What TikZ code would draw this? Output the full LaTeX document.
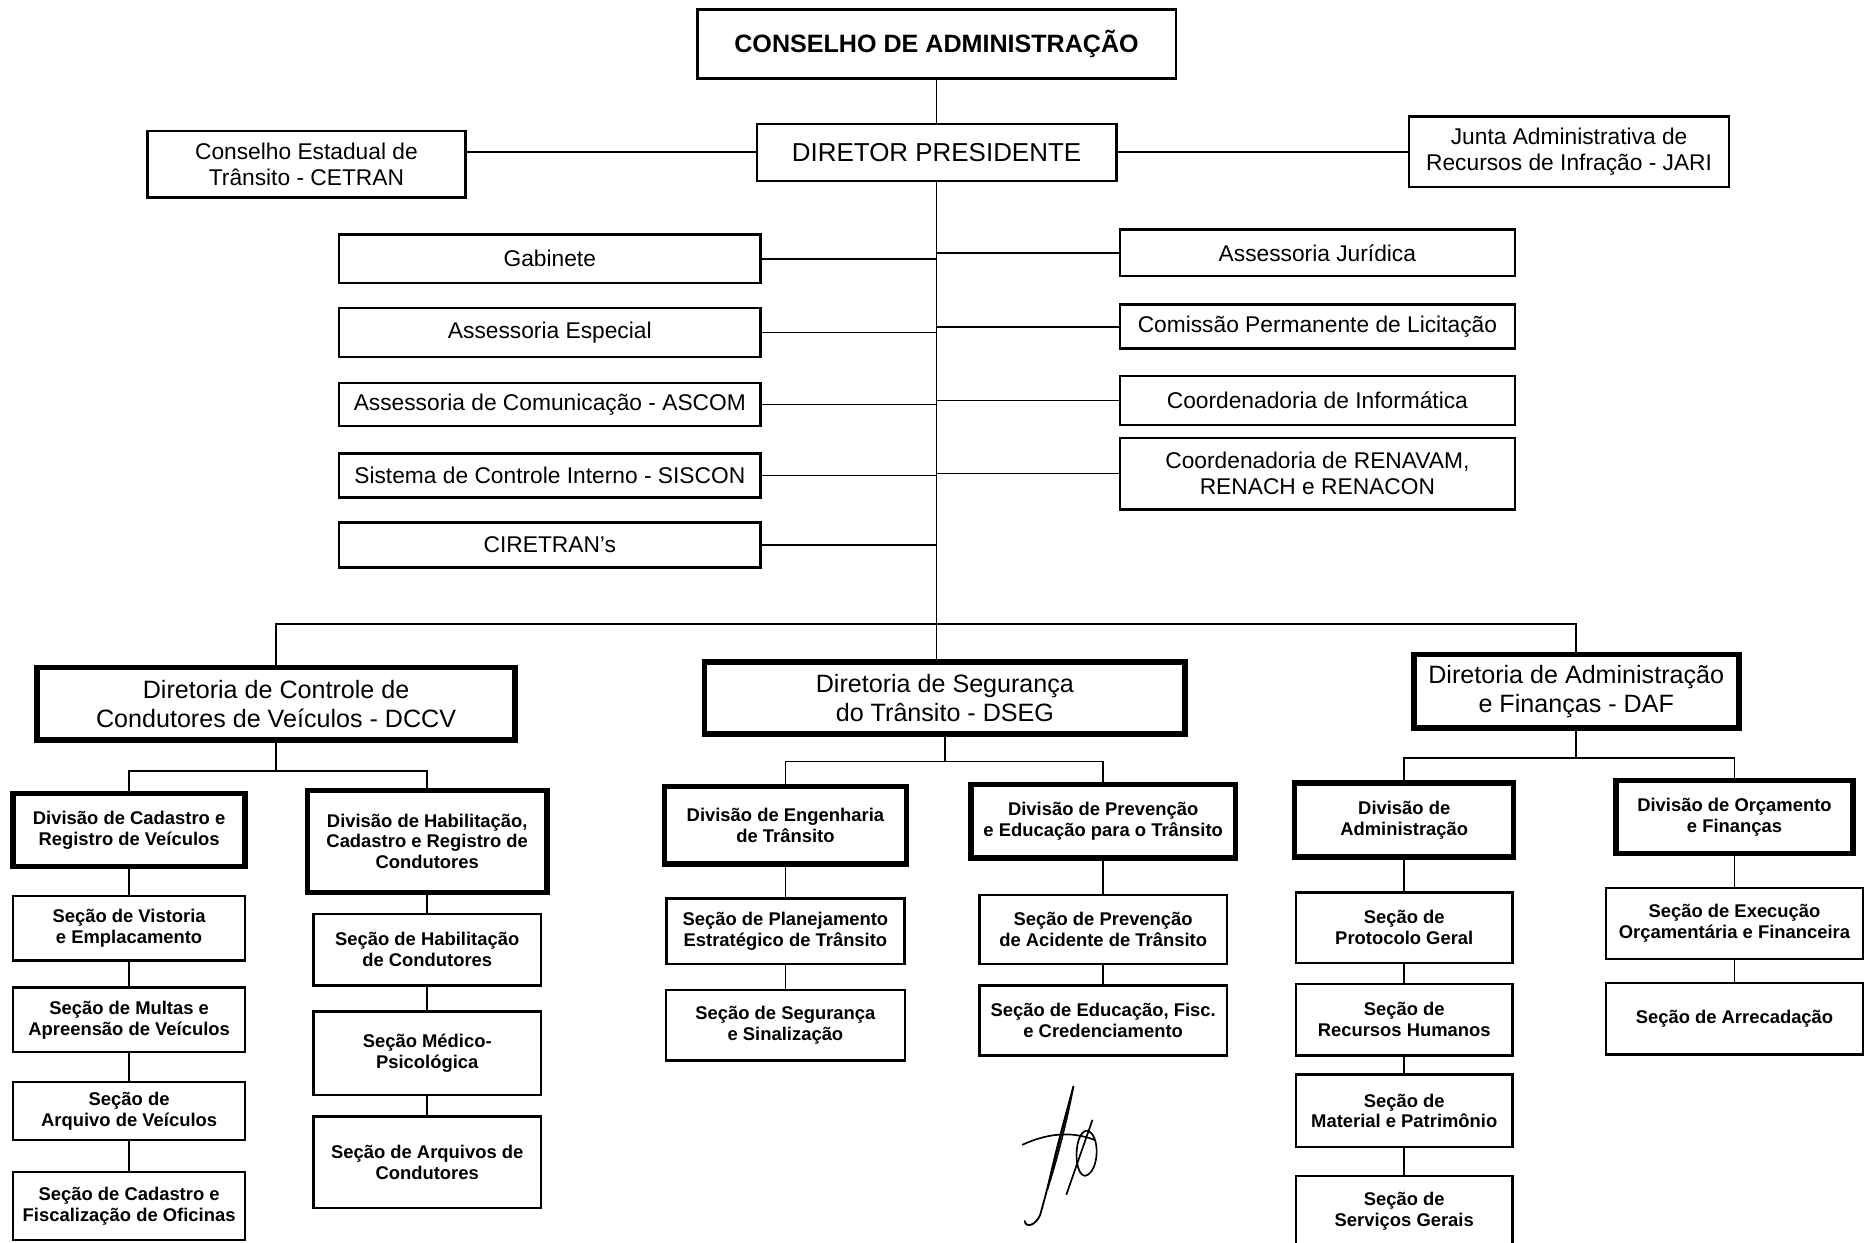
\documentclass[tikz,border=0pt]{standalone}
\usepackage{fontspec}
\setmainfont{Liberation Sans}
\tikzset{
    box/.style={draw, line width=1.5pt, align=center, inner sep=2pt, font=\fontsize{13.6}{15.5}\selectfont}, % 普通方框
    dir box/.style={box, line width=3.4pt, font=\fontsize{15}{17.5}\selectfont}, % 各个Diretoria
    div box/.style={box, line width=3.2pt, font=\bfseries\fontsize{11}{12.5}\selectfont}, % 各个Divisão
    sec box/.style={box, font=\bfseries\fontsize{11}{12.5}\selectfont}, % 各个Seção
    wh/.style 2 args={minimum width=#1*0.025cm, minimum height=#2*0.025cm}, % 宽和高(像素)
    link/.style={line width=1pt}
}
\begin{document}
\begin{tikzpicture}[x=0.025cm, y=-0.025cm]
    \useasboundingbox (0,0) rectangle (1568,1044);

    % 上层
    \node[box, wh={402}{58}, font=\bfseries\fontsize{15}{17}\selectfont] (cons) at (787,37) {CONSELHO DE ADMINISTRAÇÃO};
    \node[box, wh={302}{48}, font=\fontsize{15.5}{17}\selectfont] (dp) at (787,128) {DIRETOR PRESIDENTE};
    \node[box, wh={267}{56}] (cetran) at (257.5,138) {Conselho Estadual de\\Trânsito - CETRAN};
    \node[box, wh={269}{59}] (jari) at (1318.5,127.5) {Junta Administrativa de\\Recursos de Infração - JARI};

    \node[box, wh={354}{41}] (gab) at (462,217.5) {Gabinete};
    \node[box, wh={354}{41}] (aesp) at (462,279.5) {Assessoria Especial};
    \node[box, wh={354}{36}] (ascom) at (462,340) {Assessoria de Comunicação - ASCOM};
    \node[box, wh={354}{37}] (siscon) at (462,399.5) {Sistema de Controle Interno - SISCON};
    \node[box, wh={354}{38}] (ciretran) at (462,458) {CIRETRAN's};

    \node[box, wh={332}{39}] (ajur) at (1107,212.5) {Assessoria Jurídica};
    \node[box, wh={332}{37}] (cpl) at (1107,274.5) {Comissão Permanente de Licitação};
    \node[box, wh={332}{41}] (cinf) at (1107,336.5) {Coordenadoria de Informática};
    \node[box, wh={332}{60}] (cren) at (1107,398) {Coordenadoria de RENAVAM,\\RENACH e RENACON};

    % Diretorias
    \node[dir box, wh={402}{61}] (dccv) at (232,591.5) {Diretoria de Controle de\\Condutores de Veículos - DCCV};
    \node[dir box, wh={404}{61}] (dseg) at (794,586.5) {Diretoria de Segurança\\do Trânsito - DSEG};
    \node[dir box, wh={273}{62}] (daf) at (1324.5,581) {Diretoria de Administração\\e Finanças - DAF};

    % DCCV
    \node[div box, wh={195}{61}] (dcrv) at (108.5,697.5) {Divisão de Cadastro e\\Registro de Veículos};
    \node[div box, wh={201}{86}] (dhab) at (359,707) {Divisão de Habilitação,\\Cadastro e Registro de\\Condutores};
    \node[sec box, wh={195}{54}] (svist) at (108.5,780) {Seção de Vistoria\\e Emplacamento};
    \node[sec box, wh={195}{54}] (smult) at (108.5,857) {Seção de Multas e\\Apreensão de Veículos};
    \node[sec box, wh={195}{49}] (sarqv) at (108.5,933.5) {Seção de\\Arquivo de Veículos};
    \node[sec box, wh={195}{57}] (sofic) at (108.5,1013.5) {Seção de Cadastro e\\Fiscalização de Oficinas};
    \node[sec box, wh={191}{60}] (shab) at (359,798) {Seção de Habilitação\\de Condutores};
    \node[sec box, wh={191}{70}] (smed) at (359,885) {Seção Médico-\\Psicológica};
    \node[sec box, wh={191}{77}] (sarqc) at (359,976.5) {Seção de Arquivos de\\Condutores};

    % DSEG
    \node[div box, wh={203}{65}] (deng) at (660,693.5) {Divisão de Engenharia\\de Trânsito};
    \node[div box, wh={222}{62}] (dprev) at (927,690) {Divisão de Prevenção\\e Educação para o Trânsito};
    \node[sec box, wh={200}{55}] (splan) at (660,782.5) {Seção de Planejamento\\Estratégico de Trânsito};
    \node[sec box, wh={201}{59}] (sseg) at (660,861.5) {Seção de Segurança\\e Sinalização};
    \node[sec box, wh={208}{58}] (spac) at (927,781) {Seção de Prevenção\\de Acidente de Trânsito};
    \node[sec box, wh={208}{59}] (seduc) at (927,857.5) {Seção de Educação, Fisc.\\e Credenciamento};

    % DAF
    \node[div box, wh={184}{62}] (dadm) at (1180,689) {Divisão de\\Administração};
    \node[div box, wh={199}{61}] (dorc) at (1457.5,686.5) {Divisão de Orçamento\\e Finanças};
    \node[sec box, wh={182}{59}] (sprot) at (1180,779.5) {Seção de\\Protocolo Geral};
    \node[sec box, wh={182}{60}] (srh) at (1180,857) {Seção de\\Recursos Humanos};
    \node[sec box, wh={182}{61}] (smat) at (1180,933.5) {Seção de\\Material e Patrimônio};
    \node[sec box, wh={182}{60}] (sserv) at (1180,1018) {Seção de\\Serviços Gerais};
    \node[sec box, wh={216}{60}] (sexec) at (1457.5,776) {Seção de Execução\\Orçamentária e Financeira};
    \node[sec box, wh={216}{60}] (sarr) at (1457.5,856) {Seção de Arrecadação};

    % ligações
    \draw[link] (cons.south) -- (dp.north);
    \draw[link] (dp.south) -- (dp.south |- dseg.north);
    \draw[link] (dp.west) -- (dp.west -| cetran.east);
    \draw[link] (dp.east) -- (dp.east -| jari.west);
    \foreach \n in {gab,aesp,ascom,siscon,ciretran} {\draw[link] (\n.east) -- (\n.east -| dp.south);}
    \foreach \n in {ajur,cpl,cinf,cren} {\draw[link] (\n.west) -- (\n.west -| dp.south);}
    \draw[link] (dccv.north) -- ++(0,-34) -| (daf.north);

    \coordinate (bA) at (232,648);
    \coordinate (bB) at (794,640);
    \coordinate (bC) at (1324.5,637);
    \draw[link] (dccv.south) -- (bA);
    \draw[link] (dcrv.north) |- (bA) -| (dhab.north);
    \draw[link] (dseg.south) -- (bB);
    \draw[link] (deng.north) |- (bB) -| (dprev.north);
    \draw[link] (daf.south) -- (bC);
    \draw[link] (dadm.north) |- (bC) -| (dorc.north);

    \draw[link] (dcrv) -- (svist) -- (smult) -- (sarqv) -- (sofic);
    \draw[link] (dhab) -- (shab) -- (smed) -- (sarqc);
    \draw[link] (deng) -- (splan) -- (sseg);
    \draw[link] (dprev) -- (spac) -- (seduc);
    \draw[link] (dadm) -- (sprot) -- (srh) -- (smat) -- (sserv);
    \draw[link] (dorc) -- (sexec) -- (sarr);

    % assinatura
    \draw[line width=1.1pt, line cap=round] (902,913) .. controls (890,960) and (880,1000) .. (874,1021)
        .. controls (870,1030) and (862,1032) .. (861,1026);
    \draw[line width=0.9pt] (902,913) .. controls (893,945) and (885,975) .. (880,1000)
        .. controls (888,975) and (896,945) .. (902,913);
    \draw[line width=1pt] (859,962) .. controls (885,950) and (905,952) .. (920,958);
    \draw[line width=1pt] (913,950) .. controls (925,952) and (924,985) .. (912,988)
        .. controls (902,988) and (902,952) .. (913,950);
    \draw[line width=1pt] (918,941) -- (896,1004);
\end{tikzpicture}
\end{document}
